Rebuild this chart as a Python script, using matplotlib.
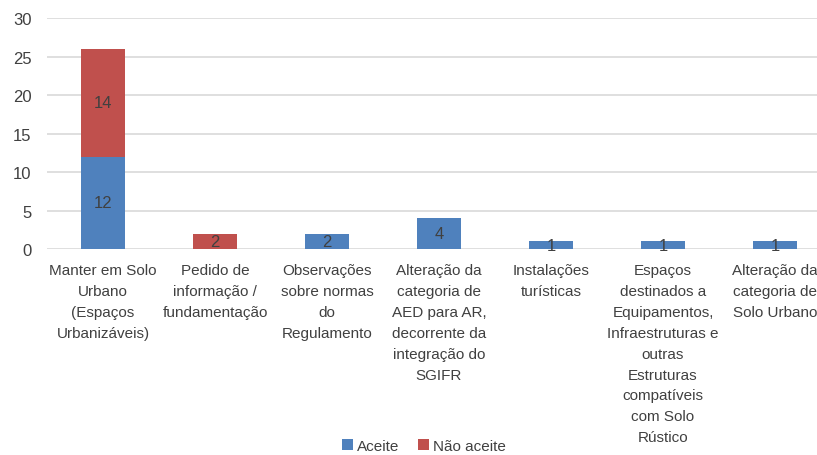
import matplotlib
matplotlib.use("Agg")
import matplotlib.pyplot as plt
import numpy as np

categories = [
    "Manter em Solo\nUrbano\n(Espaços\nUrbanizáveis)",
    "Pedido de\ninformação /\nfundamentação",
    "Observações\nsobre normas\ndo\nRegulamento",
    "Alteração da\ncategoria de\nAED para AR,\ndecorrente da\nintegração do\nSGIFR",
    "Instalações\nturísticas",
    "Espaços\ndestinados a\nEquipamentos,\nInfraestruturas e\noutras\nEstruturas\ncompatíveis\ncom Solo\nRústico",
    "Alteração da\ncategoria de\nSolo Urbano",
]
aceite = [12, 0, 2, 4, 1, 1, 1]
nao_aceite = [14, 2, 0, 0, 0, 0, 0]
series_names = ["Aceite", "Não aceite"]
yticks = [0, 5, 10, 15, 20, 25, 30]

FONT = ["Liberation Sans", "DejaVu Sans"]
plt.rcParams["font.family"] = FONT
TXT = "#404040"
BLUE = "#4F81BD"
RED = "#C0504D"
FS = 11
LS = 1.63

W, H = 817, 456
fig = plt.figure(figsize=(W / 100, H / 100), dpi=100)
left, right = 47, 831
top, bottom = 19, 250
ax = fig.add_axes([left / W, 1 - bottom / H, (right - left) / W, (bottom - top) / H])

x = np.arange(len(categories))
bw = 0.4
b1 = ax.bar(x, aceite, bw, color=BLUE, label=series_names[0], zorder=3)
b2 = ax.bar(x, nao_aceite, bw, bottom=aceite, color=RED, label=series_names[1], zorder=3)

for rect, v in zip(b1, aceite):
    if v:
        ax.text(rect.get_x() + rect.get_width() / 2, rect.get_y() + v / 2, str(v),
                ha="center", va="center", fontsize=12, color=TXT, zorder=4)
for rect, v, b in zip(b2, nao_aceite, aceite):
    if v:
        ax.text(rect.get_x() + rect.get_width() / 2, b + v / 2, str(v),
                ha="center", va="center", fontsize=12, color=TXT, zorder=4)

ax.set_xlim(-0.5, len(categories) - 0.5)
ax.set_ylim(0, 30)
ax.set_yticks(yticks)
ax.set_yticklabels([str(t) for t in yticks])
ax.yaxis.grid(True, color="#D9D9D9", linewidth=1.2, zorder=0)
ax.set_axisbelow(True)
for s in ax.spines.values():
    s.set_visible(False)
ax.tick_params(axis="both", length=0, labelsize=12, colors=TXT)
ax.tick_params(axis="y", pad=11)
ax.set_xticks(x)
ax.set_xticklabels(categories, fontsize=FS, color=TXT, va="top", linespacing=LS)
ax.tick_params(axis="x", pad=10)

leg = fig.legend(loc="center", bbox_to_anchor=(424 / W, 1 - 447 / H), ncol=2, frameon=False,
                 fontsize=FS, handlelength=0.7, handleheight=0.7, handletextpad=0.3,
                 columnspacing=1.2, labelcolor=TXT)

fig.savefig("out.png", dpi=100)
